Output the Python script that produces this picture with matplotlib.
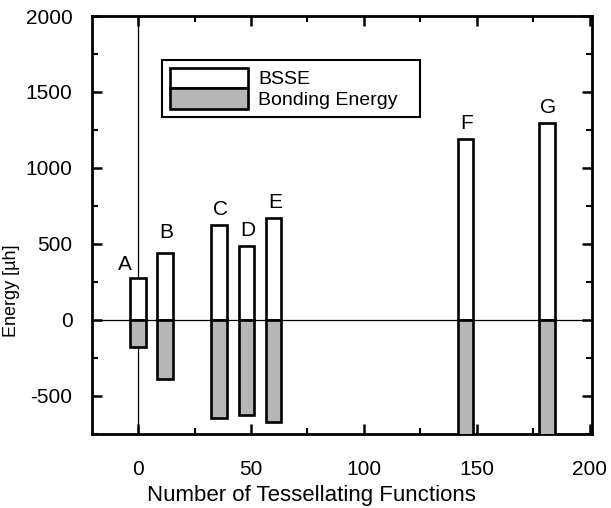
import numpy as np
import matplotlib
matplotlib.use('Agg')
import matplotlib.pyplot as plt
from matplotlib.patches import Patch
from matplotlib.ticker import MultipleLocator

plt.rcParams['font.family'] = ['Liberation Sans', 'DejaVu Sans']
plt.rcParams['axes.unicode_minus'] = False

# data
labels = ['A', 'B', 'C', 'D', 'E', 'F', 'G']
n_funcs = [0, 12, 36, 48, 60, 145, 181]
bsse = [276, 441, 625, 487, 671, 1193, 1296]
bonding = [-178, -388, -645, -625, -671, -760, -760]

fig = plt.figure(figsize=(6.11, 5.08), dpi=100)
ax = fig.add_axes([0.1506, 0.1457, 0.8183, 0.8228])

grey = '#b6b6b6'
w = 7
ax.bar(n_funcs, bsse, width=w, color='white', edgecolor='black', linewidth=1.9, zorder=3)
ax.bar(n_funcs, bonding, width=w, color=grey, edgecolor='black', linewidth=1.9, zorder=3)

ax.axhline(0, color='black', linewidth=0.9, zorder=4)
ax.axvline(0, color='black', linewidth=0.9, zorder=2)

# label offsets (points) above each bar top
offs = {'A': (-9.5, 6), 'B': (1, 11)}
for lab, x, top in zip(labels, n_funcs, bsse):
    dx, dy = offs.get(lab, (1, 7.2))
    ax.annotate(lab, (x, top), xytext=(dx, dy), textcoords='offset points',
                ha='center', va='baseline', fontsize=15)

ax.set_xlim(-20.4, 201)
ax.set_ylim(-750, 2000)
ax.xaxis.set_major_locator(MultipleLocator(50))
ax.xaxis.set_minor_locator(MultipleLocator(25))
ax.yaxis.set_major_locator(MultipleLocator(500))
ax.yaxis.set_minor_locator(MultipleLocator(250))
ax.tick_params(which='both', direction='in', top=True, right=True, labelsize=15)
ax.tick_params(axis='x', which='major', pad=19)
ax.tick_params(axis='y', which='major', pad=14)
ax.tick_params(which='major', length=7, width=1.8)
ax.tick_params(which='minor', length=4, width=1.5)
for s in ax.spines.values():
    s.set_linewidth(2)

ax.set_xlabel('Number of Tessellating Functions', fontsize=16)
ax.xaxis.set_label_coords(0.438, -0.122)
ax.set_ylabel('Energy [\u00b5h]', fontsize=13)
ax.yaxis.set_label_coords(-0.145, 0.342)

handles = [Patch(facecolor='white', edgecolor='black', linewidth=1.9),
           Patch(facecolor=grey, edgecolor='black', linewidth=1.9)]
leg = ax.legend(handles, ['BSSE', 'Bonding Energy'], loc='upper left',
                bbox_to_anchor=(0.14, 0.75, 0.516, 0.145), mode='expand',
                borderaxespad=0, fancybox=False, framealpha=1, edgecolor='black',
                fontsize=14, handlelength=4.0, handleheight=1.25, labelspacing=0.0,
                handletextpad=0.55, borderpad=0.4)
leg.get_frame().set_linewidth(1.5)

fig.savefig('out.png', dpi=100)
